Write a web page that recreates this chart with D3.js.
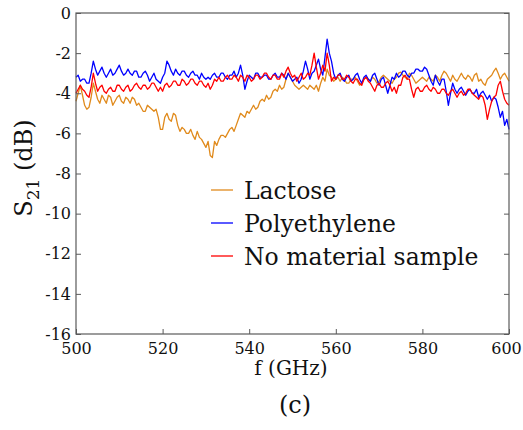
<!DOCTYPE html>
<html>
<head>
<meta charset="utf-8">
<script src="https://cdn.jsdelivr.net/npm/d3@7"></script>
<style>
  html, body { margin: 0; padding: 0; background: #fff; }
  svg { display: block; }
</style>
</head>
<body>
<div id="chart"></div>
<script>
// Frequency grid (GHz), 0.5 GHz steps from 500 to 600
const freqStart = 500;
const freqStep = 0.5;

// Transmission S21 (dB) for each measurement
const lactose = [
  -4.4, -4.0, -3.6, -4.1, -4.6, -4.8, -4.7, -4.2, -3.5, -3.9,
  -4.3, -4.5, -4.1, -4.3, -4.5, -4.1, -4.2, -4.6, -4.4, -4.2,
  -4.1, -4.4, -4.5, -4.2, -4.3, -4.5, -4.2, -4.3, -4.6, -4.5,
  -4.7, -4.9, -4.9, -4.6, -4.7, -4.8, -4.9, -4.8, -5.2, -5.8,
  -5.8, -5.2, -5.0, -5.3, -5.4, -5.0, -5.1, -5.6, -5.9, -5.7,
  -5.8, -6.0, -6.0, -5.8, -6.1, -6.3, -5.9, -6.2, -6.3, -6.5,
  -6.7, -6.4, -7.1, -7.2, -6.4, -6.6, -6.3, -6.1, -6.1, -6.2,
  -6.0, -5.8, -5.7, -5.9, -5.6, -5.3, -5.0, -5.1, -5.2, -4.9,
  -5.0, -4.8, -4.6, -4.8, -4.7, -4.4, -4.3, -4.4, -4.1, -4.3,
  -4.2, -3.9, -3.8, -3.9, -3.6, -3.8, -3.7, -3.3, -3.0, -3.2,
  -3.4, -3.6, -3.7, -3.8, -3.7, -3.6, -3.7, -3.8, -3.6, -3.7,
  -3.8, -3.6, -3.9, -3.5, -3.2, -3.4, -2.8, -3.1, -3.2, -3.4,
  -3.3, -3.2, -3.4, -3.2, -3.3, -3.5, -3.5, -3.3, -3.3, -3.2,
  -3.4, -3.6, -3.5, -3.3, -3.2, -3.3, -3.4, -3.2, -3.3, -3.5,
  -3.4, -3.2, -3.1, -3.2, -3.3, -3.4, -3.5, -3.3, -3.2, -3.0,
  -2.95, -3.1, -3.2, -3.3, -3.0, -3.1, -3.3, -3.5, -3.4, -3.3,
  -3.2, -3.3, -3.4, -3.2, -3.3, -3.4, -3.1, -3.2, -3.4, -3.1,
  -2.9, -3.0, -3.2, -3.4, -3.1, -3.3, -3.4, -3.2, -3.0, -3.2,
  -3.3, -3.1, -3.2, -3.4, -3.1, -3.0, -3.4, -3.3, -3.5, -3.6,
  -3.3, -3.2, -3.1, -2.9, -2.75, -3.0, -3.3, -3.1, -3.0, -3.2,
  -3.4
];
const polyethylene = [
  -3.2, -3.1, -3.4, -3.3, -3.3, -3.5, -3.5, -3.0, -2.4, -2.8,
  -3.1, -2.9, -2.7, -3.0, -3.2, -3.0, -2.8, -3.1, -3.0, -2.8,
  -2.6, -2.9, -3.1, -3.0, -2.8, -3.0, -3.1, -2.9, -2.9, -3.2,
  -3.2, -3.0, -2.9, -3.1, -3.4, -3.2, -3.0, -3.3, -3.4, -3.5,
  -3.2, -3.0, -2.4, -2.6, -2.9, -3.1, -2.8, -3.0, -3.1, -2.9,
  -2.9, -3.1, -3.2, -3.0, -2.9, -3.1, -3.1, -3.3, -3.0, -3.2,
  -3.3, -3.2, -3.3, -3.1, -3.0, -3.2, -3.2, -3.0, -3.0, -3.2,
  -3.3, -3.1, -3.1, -2.9, -3.2, -3.0, -2.6, -3.1, -3.8, -3.4,
  -3.1, -3.2, -3.3, -3.0, -3.0, -3.2, -3.2, -3.1, -3.1, -3.3,
  -3.3, -3.1, -3.0, -3.2, -3.2, -3.0, -3.1, -3.3, -3.0, -3.2,
  -3.4, -3.3, -3.2, -3.5, -3.3, -2.9, -2.4, -2.8, -3.3, -3.0,
  -2.9, -2.6, -2.3, -2.8, -3.1, -2.2, -1.3, -2.0, -2.4, -3.0,
  -3.3, -3.1, -3.0, -3.3, -3.4, -3.2, -3.1, -3.4, -3.3, -3.1,
  -3.0, -3.3, -3.5, -3.2, -3.1, -3.3, -3.4, -3.1, -3.0, -3.3,
  -3.6, -3.3, -3.2, -3.6, -4.0, -3.6, -3.2, -3.3, -3.0, -3.2,
  -3.1, -2.9, -2.9, -3.1, -3.2, -3.0, -3.0, -2.8, -2.8, -2.9,
  -2.9, -2.7, -2.8, -3.1, -3.4, -3.6, -3.1, -3.4, -3.6, -3.3,
  -3.3, -3.9, -4.6, -4.0, -3.5, -3.8, -4.0, -3.8, -3.7, -3.9,
  -4.1, -3.9, -3.8, -4.0, -4.0, -3.8, -4.2, -4.0, -3.9, -4.1,
  -4.3, -4.1, -4.4, -4.2, -4.3, -4.7, -5.2, -4.9, -5.6, -5.3,
  -5.8
];
const noMaterial = [
  -4.0, -3.8, -3.6, -3.8, -3.9, -4.1, -4.2, -3.7, -3.0, -3.5,
  -3.9, -3.7, -3.6, -3.9, -4.0, -3.8, -3.7, -3.9, -3.9, -3.6,
  -3.6, -3.8, -3.9, -3.7, -3.6, -3.9, -3.8, -3.6, -3.5, -3.7,
  -3.8, -3.6, -3.6, -3.8, -3.7, -3.5, -3.5, -3.7, -3.9, -3.7,
  -3.9, -3.6, -3.5, -3.7, -3.6, -3.4, -3.4, -3.6, -3.6, -3.3,
  -3.4, -3.6, -3.5, -3.3, -3.3, -3.5, -3.6, -3.4, -3.4, -3.6,
  -3.7, -3.5, -3.8, -3.6, -3.3, -3.4, -3.2, -3.4, -3.4, -3.2,
  -3.1, -3.3, -3.3, -3.1, -3.2, -3.4, -3.1, -3.2, -3.4, -3.1,
  -3.2, -3.4, -3.3, -3.1, -3.1, -3.3, -3.2, -3.0, -3.0, -3.2,
  -3.3, -3.1, -3.1, -3.3, -3.3, -3.0, -3.2, -2.9, -2.7, -3.0,
  -3.2, -3.1, -3.4, -3.2, -3.0, -3.3, -3.2, -3.0, -3.1, -2.6,
  -2.0, -2.7, -3.3, -3.0, -2.6, -2.9, -2.0, -2.6, -3.4, -3.2,
  -3.3, -3.1, -3.1, -3.3, -3.3, -3.1, -3.2, -3.4, -3.5, -3.3,
  -3.3, -3.5, -3.6, -3.3, -3.2, -3.4, -3.5, -3.7, -3.9, -3.6,
  -3.5, -3.7, -3.7, -3.5, -3.4, -3.6, -3.9, -3.7, -4.0, -3.6,
  -3.6, -3.2, -3.1, -3.3, -3.3, -3.8, -4.2, -3.8, -3.7, -3.9,
  -3.9, -3.7, -3.6, -3.8, -3.9, -3.7, -3.8, -4.0, -4.0, -3.8,
  -3.8, -4.0, -4.1, -3.9, -3.8, -4.0, -4.2, -4.0, -3.9, -4.1,
  -4.0, -3.8, -3.8, -4.0, -4.1, -4.2, -4.3, -4.1, -4.2, -4.6,
  -5.3, -4.8, -4.4, -4.2, -4.1, -3.6, -3.4, -3.9, -4.3, -4.5,
  -4.6
];

// Axis ticks
const xTicks = [500, 520, 540, 560, 580, 600];
const yTicks = [0, -2, -4, -6, -8, -10, -12, -14, -16];

const seriesNames = ["Lactose", "Polyethylene", "No material sample"];
const seriesColors = ["#e08a1c", "#0000ff", "#ff0000"];

const W = 523, H = 430;
const plot = { left: 76, right: 509, top: 13, bottom: 334 };
const textFont = "DejaVu Serif";
const textColor = "#111";

const svg = d3.select("#chart").append("svg")
  .attr("width", W).attr("height", H);

const x = d3.scaleLinear().domain([500, 600]).range([plot.left, plot.right]);
const y = d3.scaleLinear().domain([-16, 0]).range([plot.bottom, plot.top]);

const allSeries = [lactose, polyethylene, noMaterial];

// Traces
const line = d3.line()
  .x((d, i) => x(freqStart + i * freqStep))
  .y(d => y(d));

allSeries.forEach((vals, k) => {
  svg.append("path")
    .datum(vals)
    .attr("fill", "none")
    .attr("stroke", seriesColors[k])
    .attr("stroke-width", 1.3)
    .attr("stroke-linejoin", "round")
    .attr("d", line);
});

// Frame
const frameColor = "#5a5a5a";
svg.append("rect")
  .attr("x", plot.left).attr("y", plot.top)
  .attr("width", plot.right - plot.left).attr("height", plot.bottom - plot.top)
  .attr("fill", "none").attr("stroke", frameColor).attr("stroke-width", 1.2);

// Bottom axis (inward ticks)
const xAxis = d3.axisBottom(x).tickValues(xTicks).tickSize(-5).tickPadding(9)
  .tickFormat(d3.format("d"));
const gx = svg.append("g").attr("transform", `translate(0,${plot.bottom})`).call(xAxis)
  .attr("font-family", textFont).attr("font-size", 16);
gx.select(".domain").remove();
gx.selectAll(".tick line").attr("stroke", frameColor);
gx.selectAll(".tick text").attr("fill", textColor);
// keep the last label inside the canvas edge
gx.selectAll(".tick text").filter(d => d === 600).attr("dx", -3);

// Left axis (inward ticks)
const yAxis = d3.axisLeft(y).tickValues(yTicks).tickSize(-5).tickPadding(5)
  .tickFormat(d => d === 0 ? "0" : "-" + Math.abs(d));
const gy = svg.append("g").attr("transform", `translate(${plot.left},0)`).call(yAxis)
  .attr("font-family", textFont).attr("font-size", 16);
gy.select(".domain").remove();
gy.selectAll(".tick line").attr("stroke", frameColor);
gy.selectAll(".tick text").attr("fill", textColor);

// Right axis ticks only
const yAxisR = d3.axisRight(y).tickValues(yTicks).tickSize(-5).tickFormat("");
const gyr = svg.append("g").attr("transform", `translate(${plot.right},0)`).call(yAxisR);
gyr.select(".domain").remove();
gyr.selectAll(".tick line").attr("stroke", frameColor);

// Axis titles
svg.append("text")
  .attr("x", 291).attr("y", 375)
  .attr("text-anchor", "middle")
  .attr("font-family", textFont)
  .attr("font-size", 20)
  .attr("fill", textColor)
  .text("f (GHz)");

const yt = svg.append("text")
  .attr("transform", "translate(32,168) rotate(-90)")
  .attr("text-anchor", "middle")
  .attr("font-family", textFont)
  .attr("font-size", 24)
  .attr("fill", textColor);
yt.append("tspan").text("S");
yt.append("tspan").attr("dy", 7).attr("font-size", 17).text("21");
yt.append("tspan").attr("dy", -7).text(" (dB)");

svg.append("text")
  .attr("x", 295).attr("y", 413)
  .attr("text-anchor", "middle")
  .attr("font-family", textFont)
  .attr("font-size", 24)
  .attr("fill", textColor)
  .text("(c)");

// Legend
const legend = svg.append("g")
  .attr("font-family", textFont)
  .attr("font-size", 23.5)
  .attr("fill", textColor);
seriesNames.forEach((name, k) => {
  const cy = 190 + k * 33;
  legend.append("line")
    .attr("x1", 211).attr("x2", 233)
    .attr("y1", cy).attr("y2", cy)
    .attr("stroke", seriesColors[k]).attr("stroke-width", 1.3);
  legend.append("text")
    .attr("x", 244).attr("y", cy + 9)
    .text(name);
});
</script>
</body>
</html>
